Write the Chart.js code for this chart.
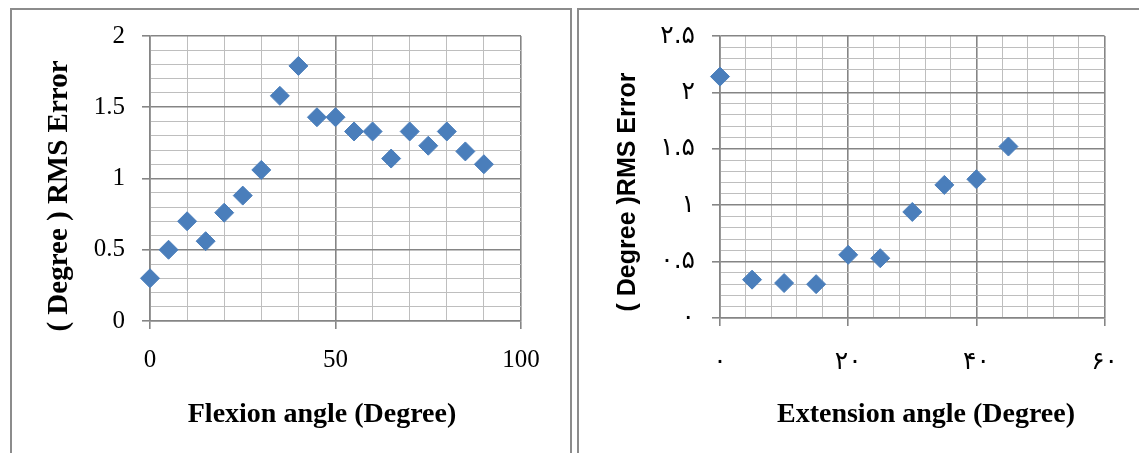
<!DOCTYPE html>
<html>
<head>
<meta charset="utf-8">
<script src="https://cdn.jsdelivr.net/npm/chart.js@4"></script>
<style>
  html, body { margin: 0; padding: 0; background: #fff; }
  body { width: 1139px; height: 453px; position: relative; overflow: hidden; }
  .frame { position: absolute; border: 2px solid #8c8c8c; box-sizing: border-box; }
  #frameLeft { left: 10px; top: 8px; width: 562px; height: 470px; }
  #frameRight { left: 577px; top: 8px; width: 600px; height: 470px; }
  canvas { position: absolute; top: 0; }
</style>
</head>
<body>
<div class="frame" id="frameLeft"></div>
<div class="frame" id="frameRight"></div>
<canvas id="flexChart" width="570" height="453" style="left:0"></canvas>
<canvas id="extChart" width="569" height="453" style="left:570px"></canvas>
<script>
// data
const flexAngle = [0, 5, 10, 15, 20, 25, 30, 35, 40, 45, 50, 55, 60, 65, 70, 75, 80, 85, 90];
const flexError = [0.30, 0.50, 0.70, 0.56, 0.76, 0.88, 1.06, 1.58, 1.79, 1.43, 1.43, 1.33, 1.33, 1.14, 1.33, 1.23, 1.33, 1.19, 1.10];
const flexXLabels = ['0', '50', '100'];
const flexYLabels = ['0', '0.5', '1', '1.5', '2'];

const extAngle = [0, 5, 10, 15, 20, 25, 30, 35, 40, 45];
const extError = [2.14, 0.34, 0.31, 0.30, 0.56, 0.53, 0.94, 1.18, 1.23, 1.52];
const extXLabels = ['۰', '۲۰', '۴۰', '۶۰'];
const extYLabels = ['۰', '۰.۵', '۱', '۱.۵', '۲', '۲.۵'];

const MAJOR = '#858585';
const MINOR = '#bebebe';
const BLUE = '#4a7ebb';

function isMajor(v, step) {
    const q = v / step;
    return Math.abs(q - Math.round(q)) < 1e-6;
}

// linear axis with light minor grid and darker labelled major lines
function makeAxis(min, max, minorStep, majorStep, labels, font, padding, fit) {
    const major = c => !c.tick || isMajor(c.tick.value, majorStep);
    return {
        type: 'linear',
        min: min,
        max: max,
        afterFit: fit,
        ticks: {
            stepSize: minorStep,
            autoSkip: false,
            maxRotation: 0,
            padding: padding,
            color: '#000',
            font: font,
            callback: v => isMajor(v, majorStep) ? labels[Math.round(v / majorStep)] : ''
        },
        grid: {
            color: c => major(c) ? MAJOR : MINOR,
            lineWidth: c => major(c) ? 1.6 : 1,
            tickColor: c => major(c) ? MAJOR : 'rgba(0,0,0,0)',
            tickLength: 8
        },
        border: { color: MAJOR, width: 1.6 }
    };
}

// axis titles placed where the original has them
function titlePlugin(items) {
    return {
        id: 'axisTitles',
        afterDraw(chart) {
            const ctx = chart.ctx;
            items.forEach(t => {
                ctx.save();
                ctx.font = t.font;
                ctx.fillStyle = '#000';
                ctx.textAlign = 'center';
                ctx.textBaseline = 'middle';
                ctx.translate(t.x, t.y);
                if (t.rotate) ctx.rotate(-Math.PI / 2);
                ctx.fillText(t.text, 0, 0);
                ctx.restore();
            });
        }
    };
}

function makeChart(id, xs, ys, xAxis, yAxis, padRight, titles) {
    return new Chart(document.getElementById(id), {
        type: 'scatter',
        data: {
            datasets: [{
                data: xs.map((x, i) => ({ x: x, y: ys[i] })),
                pointStyle: 'rectRot',
                pointRadius: 9.5,
                pointBorderWidth: 1,
                backgroundColor: BLUE,
                borderColor: BLUE,
                clip: false
            }]
        },
        options: {
            responsive: false,
            animation: false,
            devicePixelRatio: 1,
            layout: { padding: { left: 0, right: padRight, top: 36, bottom: 0 } },
            plugins: { legend: { display: false }, tooltip: { enabled: false } },
            scales: { x: xAxis, y: yAxis }
        },
        plugins: [titlePlugin(titles)]
    });
}

const serifTicks = { family: "'Liberation Serif', serif", size: 25 };
const arabicTicks = { family: "'DejaVu Sans', sans-serif", size: 25 };

makeChart('flexChart', flexAngle, flexError,
    makeAxis(0, 100, 10, 50, flexXLabels, serifTicks, 16, s => { s.height = 453 - 321; }),
    makeAxis(0, 2, 0.1, 0.5, flexYLabels, serifTicks, 17, s => { s.width = 150; }),
    570 - 521,
    [
        { text: 'Flexion angle (Degree)', x: 322, y: 415, font: "bold 28px 'Liberation Serif'" },
        { text: '( Degree ) RMS Error', x: 60, y: 196, rotate: true, font: "bold 29px 'Liberation Serif'" }
    ]);

makeChart('extChart', extAngle, extError,
    makeAxis(0, 60, 4, 20, extXLabels, arabicTicks, 21, s => { s.height = 453 - 318; }),
    makeAxis(0, 2.5, 0.1, 0.5, extYLabels, arabicTicks, 17, s => { s.width = 150; }),
    569 - 536,
    [
        { text: 'Extension angle (Degree)', x: 356, y: 415, font: "bold 28px 'Liberation Serif'" },
        { text: '( Degree )RMS Error', x: 58, y: 192, rotate: true, font: "bold 25px 'Liberation Sans'" }
    ]);
</script>
</body>
</html>
